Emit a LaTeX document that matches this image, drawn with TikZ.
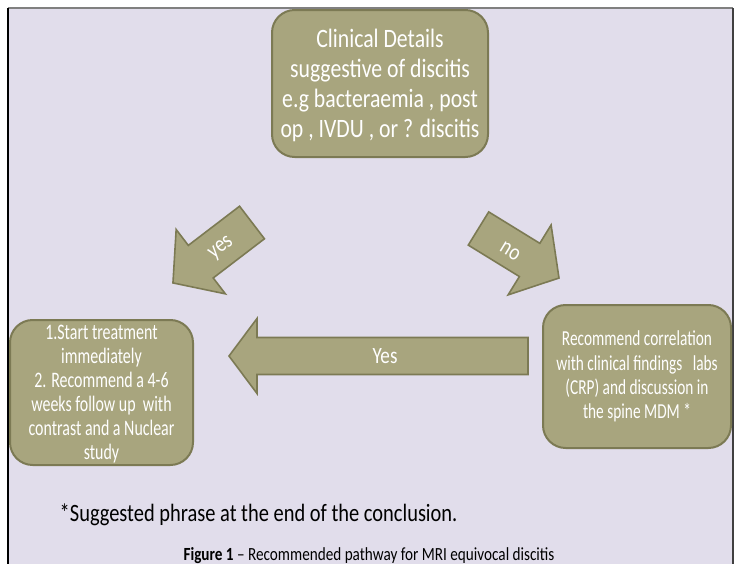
\documentclass[tikz,border=0pt]{standalone}
\usepackage{fontspec}
\setmainfont{Carlito}[FakeStretch=0.82]
\newfontfamily\boxfont{Carlito}[FakeStretch=0.72]
\usetikzlibrary{positioning}

\definecolor{lavender}{RGB}{225,221,235}
\definecolor{olivefill}{RGB}{168,165,126}
\definecolor{olivedraw}{RGB}{124,122,84}

\tikzset{
	box/.style={draw=olivedraw, fill=olivefill, line width=1.5pt, rounded corners=17pt, text=white, align=center, inner sep=0pt},
	blockarrow/.style={draw=olivedraw, fill=olivefill, line width=1.2pt, line join=miter},
	arrowtext/.style={text=white, font=\fontsize{17.5}{18}\selectfont, inner sep=0pt}
}

\begin{document}
\begin{tikzpicture}[x=0.75pt, y=-0.75pt]

%Background
\fill[white] (0,0) rectangle (737,564);
\useasboundingbox (0,0) rectangle (737,564);
\fill[lavender] (8,8) rectangle (733,564);
\draw[gray, line width=1.5pt] (8,8) -- (733,8);
\draw[black, line width=1.2pt] (8,8) -- (8,564);
\draw[black!75, line width=1.5pt] (733,8) -- (733,564);

%Boxes
\node[box, minimum width=162pt, minimum height=110.25pt, font=\fontsize{19.9}{22.5}\selectfont] (clinical) at (380,83.5)
	{\rule{0pt}{16pt}Clinical Details\\ suggestive of discitis\\ e.g bacteraemia , post\\ op , IVDU , or ? discitis};

\node[box, minimum width=137.25pt, minimum height=108.75pt, font=\boxfont\fontsize{16.6}{18}\selectfont] (treat) at (101.5,392.5)
	{\rule{0pt}{13pt}1.Start treatment\\ immediately\\ 2. Recommend a 4-6\\ weeks follow up\ \ with\\ contrast and a Nuclear\\ study};

\node[box, minimum width=141pt, minimum height=107.25pt, font=\boxfont\fontsize{16}{18.2}\selectfont] (correl) at (637,376.5)
	{Recommend correlation\\ with clinical findings\ \ \ labs\\ (CRP) and discussion in\\ the spine MDM *};

%Arrows
\begin{scope}[shift={(252,222.5)}, rotate=217.4]
	\draw[blockarrow] (0,-20.5) -- (64.5,-20.5) -- (64.5,-40.5) -- (99.5,0) -- (64.5,40.5) -- (64.5,20.5) -- (0,20.5) -- cycle;
	\node[arrowtext, rotate=37.4] (yesdiag) at (40,-2) {yes};
\end{scope}

\begin{scope}[shift={(478.5,228.5)}, rotate=-31.6]
	\draw[blockarrow] (0,-19.5) -- (60,-19.5) -- (60,-41) -- (94.5,0) -- (60,41) -- (60,19.5) -- (0,19.5) -- cycle;
	\node[arrowtext, rotate=-31.6] (nodiag) at (39,3) {no};
\end{scope}

\begin{scope}[shift={(528,356)}, rotate=180]
	\draw[blockarrow] (0,-18.5) -- (271,-18.5) -- (271,-37.5) -- (299,0) -- (271,37.5) -- (271,18.5) -- (0,18.5) -- cycle;
	\node[arrowtext] (yesback) at (143,0) {Yes};
\end{scope}

%Text
\node[anchor=west, font=\fontsize{18.7}{20}\selectfont] (note) at (55,515) {*Suggested phrase at the end of the conclusion.};
\node[font=\fontsize{13.9}{15}\selectfont] (caption) at (369,556) {\textbf{Figure 1} – Recommended pathway for MRI equivocal discitis};

\end{tikzpicture}
\end{document}
